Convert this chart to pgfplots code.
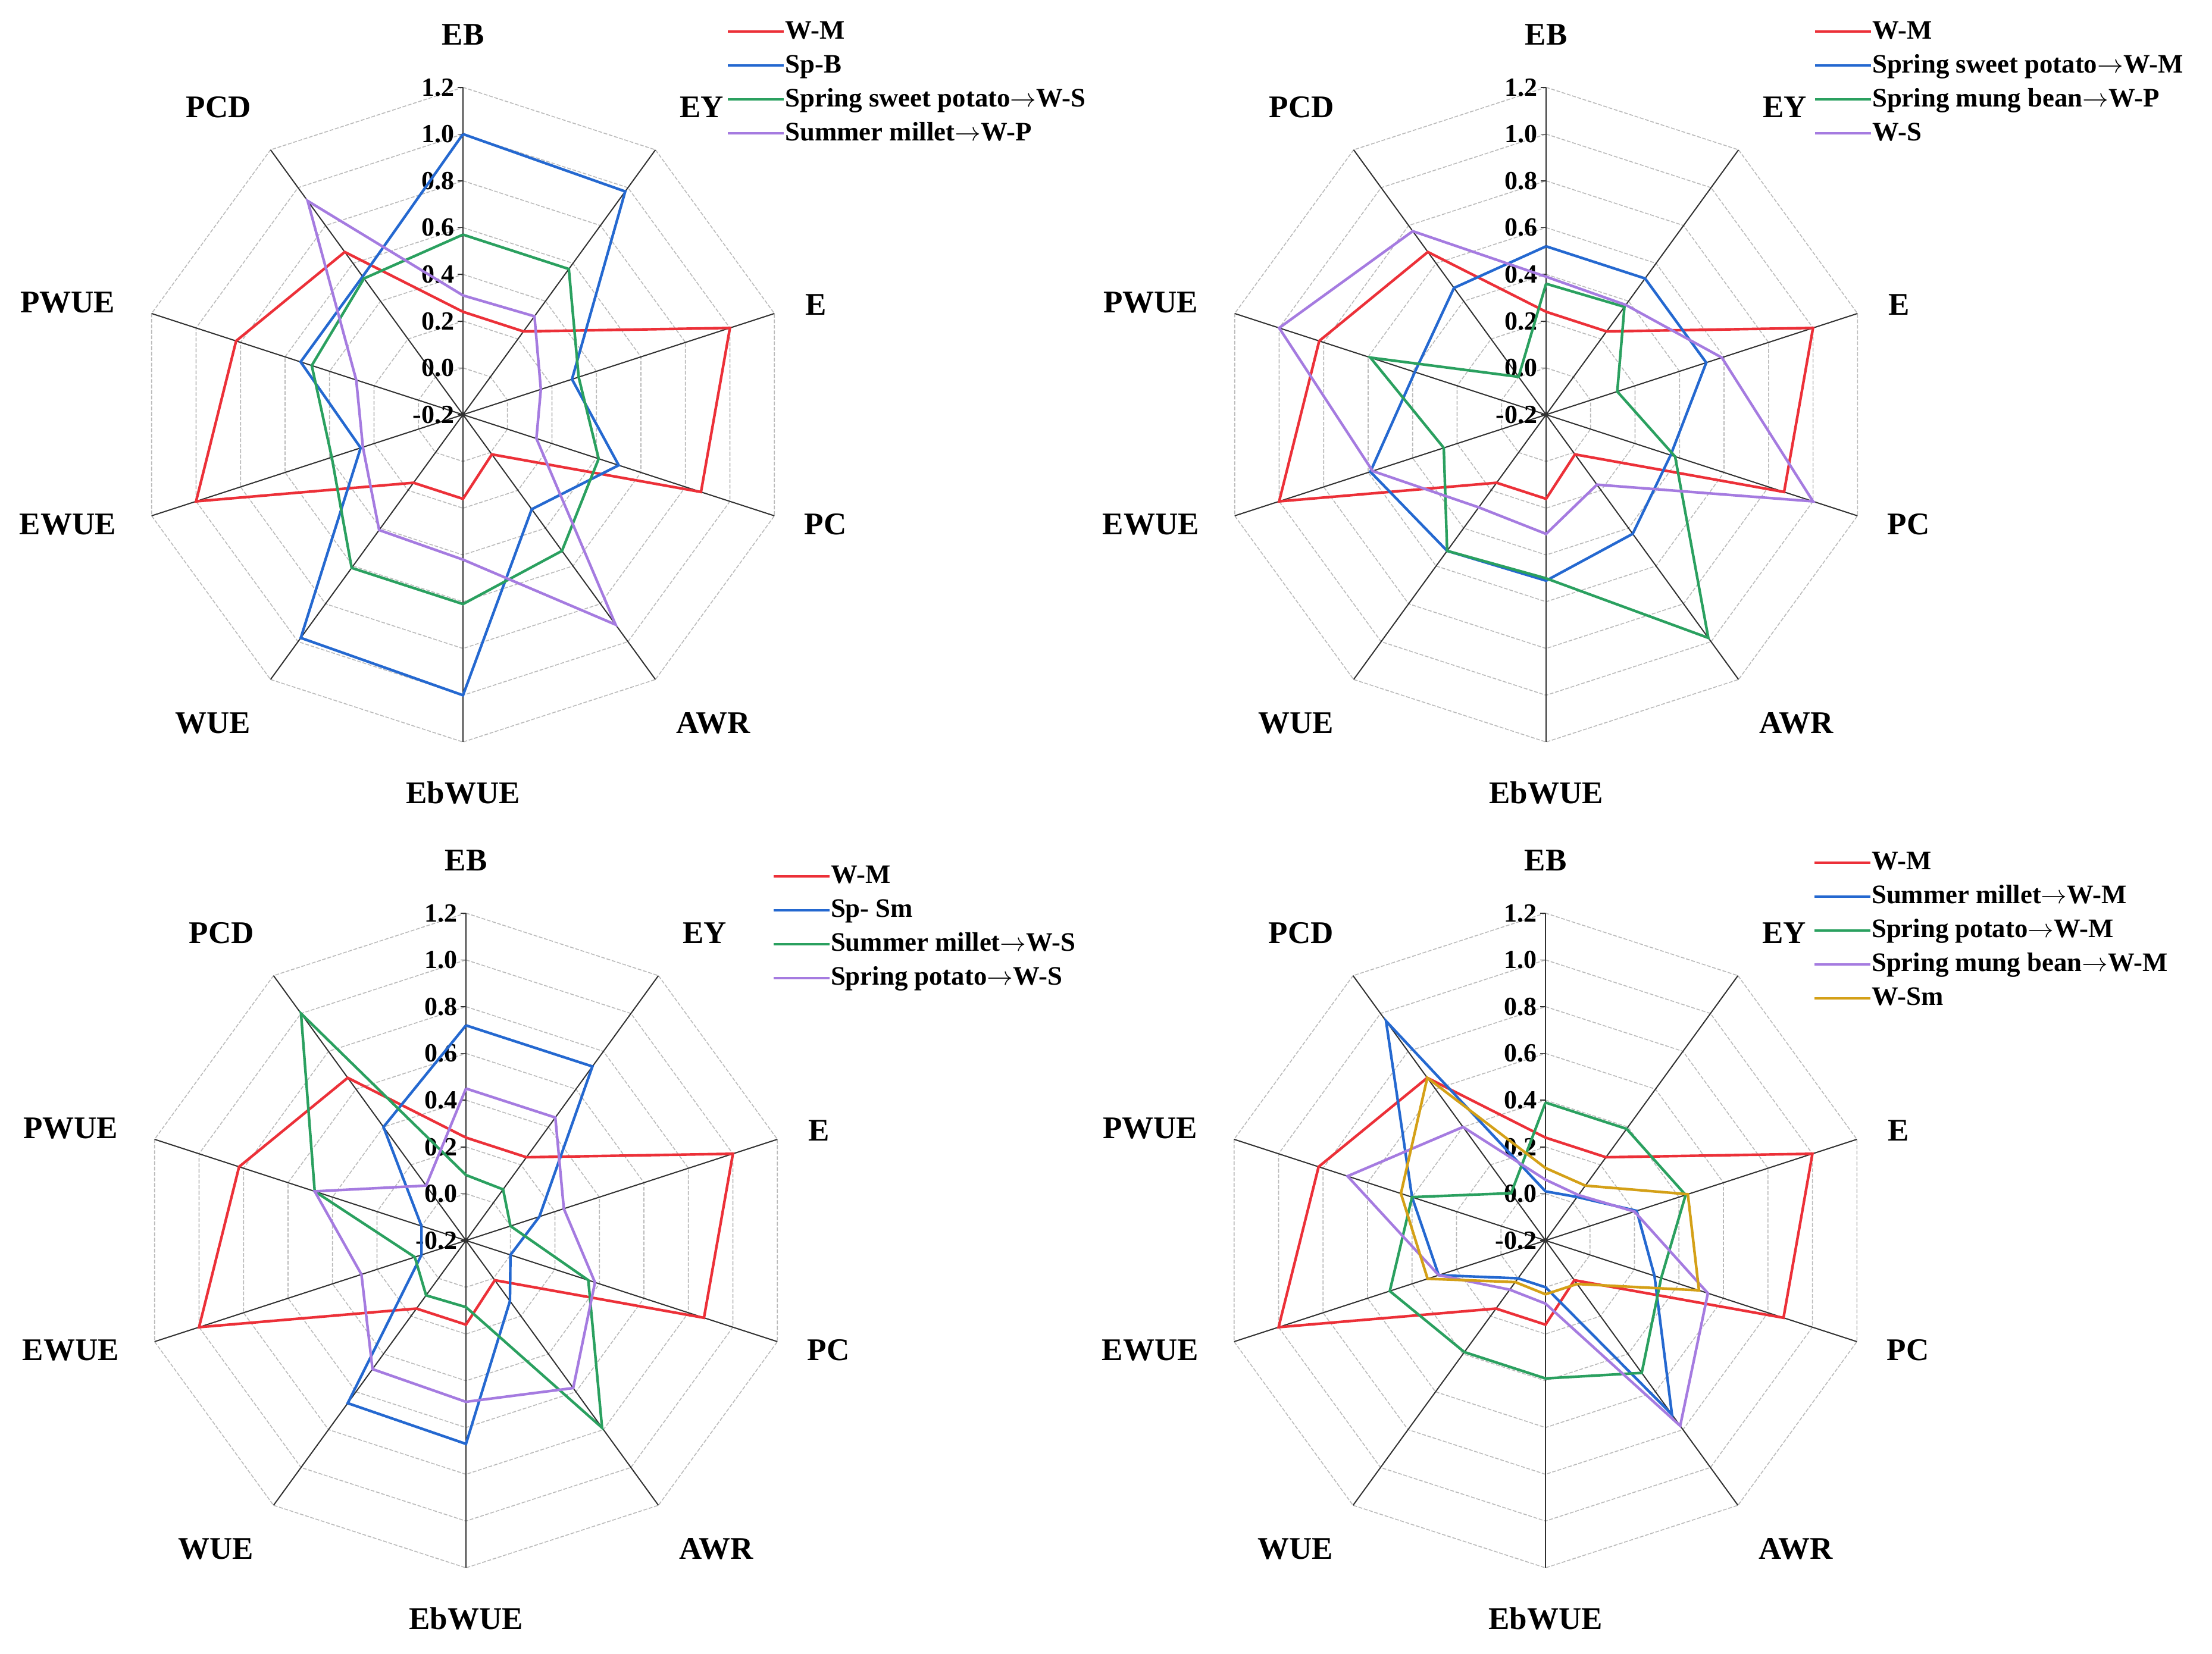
\documentclass[border=0pt]{standalone}
\usepackage{fontspec}
\setmainfont{Liberation Serif}
\usepackage{pgfplots}
\usepackage{pgfplotstable}
\pgfplotsset{compat=1.18}

\definecolor{cRed}{HTML}{EC3038}
\definecolor{cBlue}{HTML}{2468D0}
\definecolor{cGreen}{HTML}{2AA05F}
\definecolor{cPurple}{HTML}{A57BE0}
\definecolor{cGold}{HTML}{D4A017}
\definecolor{gridc}{HTML}{BABABA}
\definecolor{spokec}{HTML}{303030}

\newcommand{\catfont}{\fontsize{13.25}{15}\selectfont\bfseries}
\newcommand{\tickfont}{\fontsize{11}{12}\selectfont\bfseries}
\newcommand{\legfont}{\fontsize{11.2}{13}\selectfont\bfseries}
\newcommand{\arr}{\ensuremath{\rightarrow}}

% angle a in degrees: EB EY E PC AWR EbWUE WUE EWUE PWUE PCD (EB repeated to close)
\pgfplotstableread{
a    WM   B    G    P
90   0.24 1.00 0.57 0.31
54   0.24 0.98 0.57 0.32
18   1.00 0.29 0.32 0.15
-18  0.87 0.50 0.41 0.13
-54  0.01 0.30 0.52 0.91
-90  0.16 1.00 0.61 0.42
-126 0.16 0.98 0.61 0.41
-162 1.00 0.26 0.39 0.25
162  0.82 0.53 0.48 0.28
126  0.66 0.53 0.52 0.93
90   0.24 1.00 0.57 0.31
}\dataTL

\pgfplotstableread{
a    WM   B    G    P
90   0.24 0.52 0.36 0.39
54   0.24 0.52 0.37 0.38
18   1.00 0.52 0.12 0.59
-18  0.87 0.36 0.38 1.00
-54  0.01 0.43 0.98 0.17
-90  0.16 0.51 0.50 0.31
-126 0.16 0.52 0.52 0.29
-162 1.00 0.59 0.26 0.58
162  0.82 0.39 0.59 1.00
126  0.66 0.47 0.00 0.77
90   0.24 0.52 0.36 0.39
}\dataTR

\pgfplotstableread{
a    WM   B    G     P
90   0.24 0.72 0.08  0.45
54   0.24 0.72 0.07  0.45
18   1.00 0.13 0.00  0.24
-18  0.87 0.00 0.35  0.38
-54  0.01 0.12 0.79  0.58
-90  0.16 0.67 0.085 0.49
-126 0.16 0.66 0.09  0.48
-162 1.00 0.00 0.03  0.27
162  0.82 0.00 0.48  0.48
126  0.66 0.40 1.00  0.09
90   0.24 0.72 0.08  0.45
}\dataBL

\pgfplotstableread{
a    WM   B    G    P    Y
90   0.24 0.01 0.39 0.06 0.11
54   0.24 0.03 0.39 0.04 0.09
18   1.00 0.21 0.43 0.20 0.44
-18  0.87 0.29 0.32 0.53 0.49
-54  0.01 0.72 0.50 0.78 0.03
-90  0.16 0.00 0.39 0.07 0.03
-126 0.16 0.00 0.39 0.06 0.02
-162 1.00 0.28 0.50 0.28 0.33
162  0.82 0.40 0.40 0.69 0.45
126  0.66 0.96 0.05 0.40 0.66
90   0.24 0.01 0.39 0.06 0.11
}\dataBR

\newcommand{\radargrid}[2]{%
\begin{scope}[shift={(#1,#2)}, x=98.25pt, y=98.25pt]
  \foreach \r in {0.2,0.4,0.6,0.8,1.0,1.2,1.4} {%
    \draw[gridc, line width=0.4pt, dash pattern=on 1.6pt off 0.7pt] (90:\r) -- (54:\r) -- (18:\r) -- (-18:\r) -- (-54:\r) -- (-90:\r) -- (-126:\r) -- (-162:\r) -- (162:\r) -- (126:\r) -- cycle;}
  \foreach \t in {90,54,18,-18,-54,-90,-126,-162,162,126} {%
    \draw[spokec, line width=0.5pt] (0,0) -- (\t:1.4);}
  \foreach \r/\l in {0/-0.2,0.2/0.0,0.4/0.2,0.6/0.4,0.8/0.6,1.0/0.8,1.2/1.0,1.4/1.2} {%
    \draw[spokec, line width=0.4pt] ([xshift=-2.3pt]0,\r) -- (0,\r);
    \node[anchor=east, inner sep=0pt, font=\tickfont] at ([xshift=-3.4pt]0,\r) {\l};}
  \node[font=\catfont] at (0,1.626) {EB};
  \node[font=\catfont] at (1.02,1.315) {EY};
  \node[font=\catfont] at (1.51,0.47) {E};
  \node[font=\catfont] at (1.55,-0.47) {PC};
  \node[font=\catfont] at (1.07,-1.32) {AWR};
  \node[font=\catfont] at (0,-1.616) {EbWUE};
  \node[font=\catfont] at (-1.07,-1.32) {WUE};
  \node[font=\catfont] at (-1.69,-0.47) {EWUE};
  \node[font=\catfont] at (-1.69,0.48) {PWUE};
  \node[font=\catfont] at (-1.045,1.316) {PCD};
\end{scope}}

\newcommand{\radarplot}[3]{\addplot[#1, line width=1.1pt, mark=none] table[x expr={(\thisrow{#2}+0.2)*cos(\thisrow{a})}, y expr={(\thisrow{#2}+0.2)*sin(\thisrow{a})}] {#3};}

\pgfplotsset{radaraxis/.style={anchor=center, x=98.25pt, y=98.25pt,
  xmin=-1.4, xmax=1.4, ymin=-1.4, ymax=1.4, hide axis, clip=false,
  legend cell align=left,
  legend image code/.code={\draw[##1, line width=1pt] (0pt,0pt) -- (23.5pt,0pt);},
  legend style={draw=none, fill=none, inner sep=0pt, outer sep=0pt, font=\legfont,
    row sep=2.25pt, nodes={inner sep=0pt, text height=9pt, text depth=3pt},
    /tikz/every even column/.append style={column sep=6pt}}}}

\begin{document}
\begin{tikzpicture}
\useasboundingbox (0,0) rectangle (929.25pt,695pt);

\radargrid{194.5pt}{520.75pt}
\begin{axis}[radaraxis, at={(194.5pt,520.75pt)}, legend style={at={(0.903,1.107)}, anchor=north west}]
\radarplot{cRed}{WM}{\dataTL}
\addlegendentry{W-M}
\radarplot{cBlue}{B}{\dataTL}
\addlegendentry{Sp-B}
\radarplot{cGreen}{G}{\dataTL}
\addlegendentry{Spring sweet potato\arr W-S}
\radarplot{cPurple}{P}{\dataTL}
\addlegendentry{Summer millet\arr W-P}
\end{axis}

\radargrid{649.5pt}{520.75pt}
\begin{axis}[radaraxis, at={(649.5pt,520.75pt)}, legend style={at={(0.909,1.107)}, anchor=north west}]
\radarplot{cRed}{WM}{\dataTR}
\addlegendentry{W-M}
\radarplot{cBlue}{B}{\dataTR}
\addlegendentry{Spring sweet potato\arr W-M}
\radarplot{cGreen}{G}{\dataTR}
\addlegendentry{Spring mung bean\arr W-P}
\radarplot{cPurple}{P}{\dataTR}
\addlegendentry{W-S}
\end{axis}

\radargrid{195.75pt}{173.75pt}
\begin{axis}[radaraxis, at={(195.75pt,173.75pt)}, legend style={at={(0.968,1.078)}, anchor=north west}]
\radarplot{cRed}{WM}{\dataBL}
\addlegendentry{W-M}
\radarplot{cBlue}{B}{\dataBL}
\addlegendentry{Sp- Sm}
\radarplot{cGreen}{G}{\dataBL}
\addlegendentry{Summer millet\arr W-S}
\radarplot{cPurple}{P}{\dataBL}
\addlegendentry{Spring potato\arr W-S}
\end{axis}

\radargrid{649.25pt}{173.75pt}
\begin{axis}[radaraxis, at={(649.25pt,173.75pt)}, legend style={at={(0.909,1.099)}, anchor=north west}]
\radarplot{cRed}{WM}{\dataBR}
\addlegendentry{W-M}
\radarplot{cBlue}{B}{\dataBR}
\addlegendentry{Summer millet\arr W-M}
\radarplot{cGreen}{G}{\dataBR}
\addlegendentry{Spring potato\arr W-M}
\radarplot{cPurple}{P}{\dataBR}
\addlegendentry{Spring mung bean\arr W-M}
\radarplot{cGold}{Y}{\dataBR}
\addlegendentry{W-Sm}
\end{axis}
\end{tikzpicture}
\end{document}
